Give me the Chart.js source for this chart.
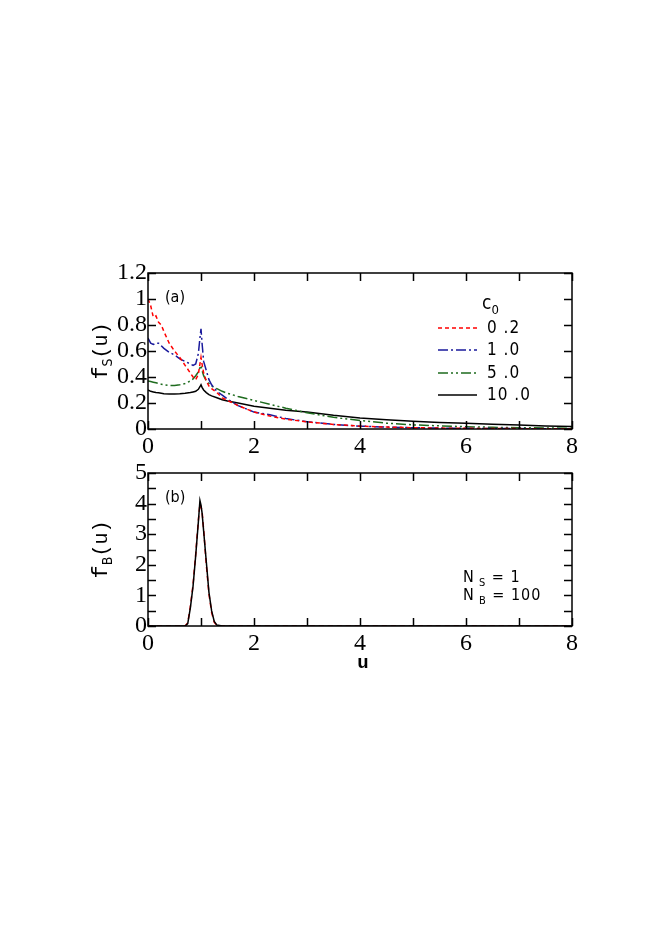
<!DOCTYPE html>
<html>
<head>
<meta charset="utf-8">
<script src="https://cdn.jsdelivr.net/npm/chart.js@4.4.0/dist/chart.umd.min.js"></script>
<style>
  html, body { margin: 0; padding: 0; background: #fff; }
  body { width: 654px; height: 925px; position: relative; overflow: hidden; }
  canvas { position: absolute; left: 0; }
  #panelA { top: 240px; }
  #panelB { top: 440px; }
</style>
</head>
<body>
<canvas id="panelA" width="654" height="220"></canvas>
<canvas id="panelB" width="654" height="240"></canvas>
<script>
// ---- panel (a): f_S(u) for several c0 ----
const uTop = [0, 0.05, 0.1, 0.15, 0.2, 0.25, 0.3, 0.4, 0.5, 0.6, 0.7, 0.8, 0.85, 0.9, 0.95, 0.98,
  1.0, 1.02, 1.05, 1.1, 1.15, 1.2, 1.3, 1.4, 1.5, 1.7, 2.0, 2.3, 2.6, 3.0, 3.5, 4.0, 4.5, 5.0,
  5.5, 6.0, 6.5, 7.0, 7.5, 8.0];
const fsC02 = [1.0, 0.95, 0.86, 0.87, 0.82, 0.80, 0.75, 0.66, 0.60, 0.55, 0.49, 0.43, 0.40, 0.38,
  0.42, 0.50, 0.55, 0.50, 0.43, 0.37, 0.33, 0.31, 0.28, 0.24, 0.22, 0.18, 0.13, 0.10, 0.075, 0.055,
  0.035, 0.022, 0.015, 0.010, 0.007, 0.005, 0.004, 0.003, 0.002, 0.002];
const fsC10 = [0.70, 0.66, 0.65, 0.66, 0.66, 0.64, 0.62, 0.59, 0.57, 0.54, 0.52, 0.50, 0.49, 0.50,
  0.58, 0.70, 0.77, 0.66, 0.52, 0.45, 0.38, 0.34, 0.29, 0.26, 0.23, 0.18, 0.13, 0.11, 0.08, 0.056,
  0.035, 0.022, 0.015, 0.010, 0.007, 0.005, 0.004, 0.003, 0.002, 0.002];
const fsC50 = [0.37, 0.365, 0.36, 0.355, 0.35, 0.345, 0.34, 0.335, 0.335, 0.34, 0.35, 0.37, 0.385,
  0.41, 0.44, 0.47, 0.49, 0.45, 0.41, 0.37, 0.35, 0.33, 0.31, 0.29, 0.275, 0.25, 0.22, 0.19, 0.16,
  0.125, 0.09, 0.065, 0.045, 0.032, 0.024, 0.018, 0.013, 0.010, 0.008, 0.006];
const fsC100 = [0.30, 0.29, 0.285, 0.28, 0.278, 0.275, 0.272, 0.27, 0.27, 0.272, 0.275, 0.28, 0.285,
  0.29, 0.305, 0.325, 0.34, 0.32, 0.30, 0.28, 0.265, 0.255, 0.24, 0.225, 0.215, 0.20, 0.175, 0.16,
  0.145, 0.13, 0.105, 0.085, 0.072, 0.06, 0.05, 0.044, 0.037, 0.03, 0.024, 0.02];
const c0Labels = ['0 .2', '1 .0', '5 .0', '10 .0'];

// ---- panel (b): f_B(u) ----
const uBot = [0, 0.5, 0.7, 0.75, 0.8, 0.85, 0.9, 0.95, 0.98, 1.0, 1.02, 1.05, 1.1, 1.15, 1.2,
  1.25, 1.3, 1.4, 2, 3, 4, 5, 6, 7, 8];
const fbBlack = [0, 0, 0, 0.08, 0.6, 1.3, 2.3, 3.4, 4.1, 3.95, 3.7, 3.1, 2.1, 1.1, 0.5, 0.15,
  0.03, 0, 0, 0, 0, 0, 0, 0, 0];
const fbRed = [0, 0, 0, 0.1, 0.65, 1.35, 2.35, 3.45, 4.0, 3.9, 3.75, 3.15, 2.0, 1.05, 0.45, 0.12,
  0.02, 0, 0, 0, 0, 0, 0, 0, 0];

const xTicks = [0, 1, 2, 3, 4, 5, 6, 7, 8];
const yTicksA = [0, 0.2, 0.4, 0.6, 0.8, 1.0, 1.2];
const yTicksB = [0, 0.5, 1, 1.5, 2, 2.5, 3, 3.5, 4, 4.5, 5];

const RED = '#ff0000', BLUE = '#1a1a9c', GREEN = '#1e6b1e', BLACK = '#000000';
const SERIF = '"Liberation Serif", "Times New Roman", serif';
const NARROW = '"Liberation Sans Narrow", "DejaVu Sans Condensed", "Liberation Sans", sans-serif';
const MONO = '"Liberation Mono", "DejaVu Sans Mono", monospace';

function pts(xs, ys) {
  return xs.map((x, i) => ({ x: x, y: ys[i] }));
}

function line(label, xs, ys, color, dash) {
  return {
    label: label,
    data: pts(xs, ys),
    borderColor: color,
    borderWidth: 1.5,
    borderDash: dash,
    pointRadius: 0,
    tension: 0,
    fill: false
  };
}

// draws text with one subscript part, optionally rotated
function subText(ctx, x, y, parts, angle) {
  ctx.save();
  ctx.translate(x, y);
  if (angle) ctx.rotate(angle);
  ctx.textBaseline = 'alphabetic';
  ctx.textAlign = 'left';
  let total = 0;
  parts.forEach(p => { ctx.font = p.font; total += ctx.measureText(p.t).width; });
  let cx = angle ? -total / 2 : 0;
  parts.forEach(p => {
    ctx.font = p.font;
    ctx.fillText(p.t, cx, p.dy || 0);
    cx += ctx.measureText(p.t).width;
  });
  ctx.restore();
}

const decorPlugin = {
  id: 'decor',
  afterDatasetsDraw(chart, args, opts) {
    const ctx = chart.ctx;
    const a = chart.chartArea;
    const xs = chart.scales.x, ys = chart.scales.y;
    ctx.save();
    ctx.strokeStyle = BLACK;
    ctx.fillStyle = BLACK;
    ctx.lineWidth = 1.5;
    ctx.strokeRect(a.left, a.top, a.right - a.left, a.bottom - a.top);

    // inward tick marks on all four sides
    const tl = 8;
    ctx.beginPath();
    xTicks.forEach(v => {
      const px = Math.round(xs.getPixelForValue(v)) + 0.5;
      ctx.moveTo(px, a.bottom); ctx.lineTo(px, a.bottom - tl);
      ctx.moveTo(px, a.top); ctx.lineTo(px, a.top + tl);
    });
    opts.yTicks.forEach(v => {
      const py = Math.round(ys.getPixelForValue(v)) + 0.5;
      ctx.moveTo(a.left, py); ctx.lineTo(a.left + tl, py);
      ctx.moveTo(a.right, py); ctx.lineTo(a.right - tl, py);
    });
    ctx.stroke();

    // panel tag
    ctx.font = '16px ' + NARROW;
    ctx.textBaseline = 'middle';
    ctx.textAlign = 'left';
    ctx.fillText(opts.tag, a.left + 17, a.top + 25);

    // y title
    subText(ctx, a.left - 41, (a.top + a.bottom) / 2, [
      { t: 'f', font: '22px ' + MONO },
      { t: opts.sub, font: '14px ' + NARROW, dy: 5 },
      { t: '(u)', font: '20px ' + MONO }
    ], -Math.PI / 2);

    if (opts.legend) {
      ctx.textBaseline = 'middle';
      subText(ctx, a.left + 334, a.top + 36, [
        { t: 'c', font: '19px ' + NARROW },
        { t: '0', font: '13px ' + NARROW, dy: 5 }
      ]);
      const rows = [55, 77, 100, 122];
      chart.data.datasets.forEach((ds, i) => {
        const y = a.top + rows[i];
        ctx.save();
        ctx.strokeStyle = ds.borderColor;
        ctx.lineWidth = 1.5;
        ctx.setLineDash(ds.borderDash || []);
        ctx.beginPath();
        ctx.moveTo(a.left + 290, y);
        ctx.lineTo(a.left + 329, y);
        ctx.stroke();
        ctx.restore();
        ctx.font = '17px ' + NARROW;
        ctx.letterSpacing = '1px';
        ctx.fillText(c0Labels[i], a.left + 339, y + 1);
        ctx.letterSpacing = '0px';
      });
    }

    if (opts.notes) {
      ctx.letterSpacing = '1px';
      subText(ctx, a.left + 315, a.bottom - 44, [
        { t: 'N', font: '16px ' + NARROW },
        { t: ' S', font: '11px ' + NARROW, dy: 4 },
        { t: ' = 1', font: '16px ' + NARROW }
      ]);
      subText(ctx, a.left + 315, a.bottom - 26, [
        { t: 'N', font: '16px ' + NARROW },
        { t: ' B', font: '11px ' + NARROW, dy: 4 },
        { t: ' = 100', font: '16px ' + NARROW }
      ]);
      ctx.letterSpacing = '0px';
      // x title
      ctx.font = 'bold 19px ' + MONO;
      ctx.textAlign = 'center';
      ctx.textBaseline = 'middle';
      ctx.fillText('u', (a.left + a.right) / 2 + 3, a.bottom + 37);
    }
    ctx.restore();
  }
};

function makePanel(id, datasets, yMax, yStep, xHeight, decor) {
  return new Chart(document.getElementById(id), {
    type: 'line',
    data: { datasets: datasets },
    plugins: [decorPlugin],
    options: {
      responsive: false,
      animation: false,
      layout: { padding: { left: 0, right: 82, top: 33, bottom: 0 } },
      plugins: {
        legend: { display: false },
        tooltip: { enabled: false },
        decor: decor
      },
      scales: {
        x: {
          type: 'linear', min: 0, max: 8,
          grid: { display: false, drawTicks: false },
          border: { display: false },
          ticks: {
            stepSize: 1, padding: 3, color: BLACK, maxRotation: 0, autoSkip: false,
            font: { family: SERIF, size: 24 },
            callback: v => (v % 2 === 0 ? String(v) : '')
          },
          afterFit: s => { s.height = xHeight; }
        },
        y: {
          type: 'linear', min: 0, max: yMax,
          grid: { display: false, drawTicks: false },
          border: { display: false },
          ticks: {
            stepSize: yStep, padding: 1, color: BLACK, autoSkip: false,
            font: { family: SERIF, size: 24 },
            callback: v => String(Number(v.toFixed(1)))
          },
          afterFit: s => { s.width = 148; }
        }
      }
    }
  });
}

makePanel('panelA', [
  line('0.2', uTop, fsC02, RED, [4, 3]),
  line('1.0', uTop, fsC10, BLUE, [10, 3, 2, 3]),
  line('5.0', uTop, fsC50, GREEN, [10, 3, 2, 3, 2, 3]),
  line('10.0', uTop, fsC100, BLACK, [])
], 1.2, 0.2, 31, { yTicks: yTicksA, tag: '(a)', sub: 'S', legend: true });

makePanel('panelB', [
  line('black', uBot, fbBlack, BLACK, []),
  line('red', uBot, fbRed, RED, [5, 4])
], 5, 1, 54, { yTicks: yTicksB, tag: '(b)', sub: 'B', legend: false, notes: true });
</script>
</body>
</html>
